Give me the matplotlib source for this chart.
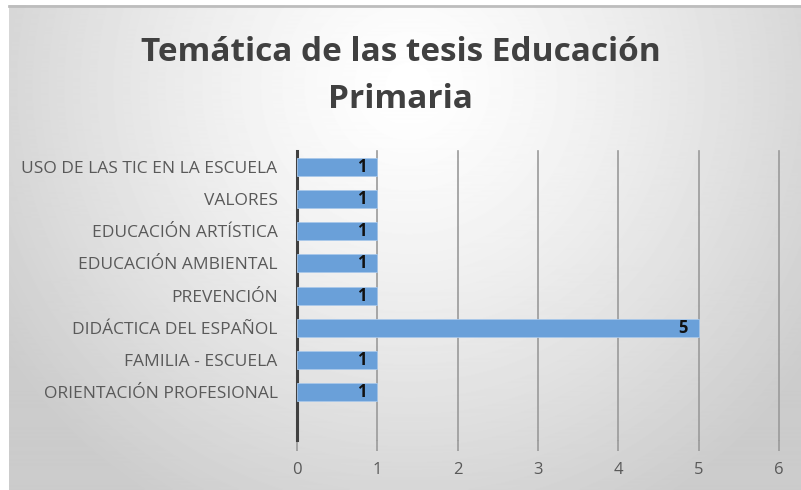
import numpy as np
import matplotlib.pyplot as plt

# data (bottom to top, as drawn)
temas = ['ORIENTACIÓN PROFESIONAL', 'FAMILIA - ESCUELA', 'DIDÁCTICA DEL ESPAÑOL',
         'PREVENCIÓN', 'EDUCACIÓN AMBIENTAL', 'EDUCACIÓN ARTÍSTICA',
         'VALORES', 'USO DE LAS TIC EN LA ESCUELA']
tesis = [1, 1, 5, 1, 1, 1, 1, 1]
xticks = [0, 1, 2, 3, 4, 5, 6]

plt.rcParams['font.family'] = ['Open Sans', 'DejaVu Sans']

fig = plt.figure(figsize=(8.01, 4.90), dpi=100, facecolor='white')

# radial gray background of the chart area
bg = fig.add_axes([0, 0, 1, 1], zorder=-5)
yy, xx = np.mgrid[0:484, 0:792]
r = np.sqrt(((xx - 400) / 520.0) ** 2 + ((yy - 80) / 520.0) ** 2)
shade = np.clip(1.0 - 0.22 * r ** 1.3, 0.8, 1.0)
bg.imshow(shade, cmap='gray', vmin=0, vmax=1, aspect='auto', extent=[9, 801, 490, 6])
bg.plot([9, 801], [6.5, 6.5], color='#bdbdbd', lw=2)
bg.set_xlim(0, 801)
bg.set_ylim(490, 0)
bg.axis('off')

ax = fig.add_axes([0.3708, 0.102, 0.6017, 0.5898])
ax.patch.set_alpha(0)

pos = np.arange(len(temas))
ax.barh(pos, tesis, height=0.56, color='#6aa0d9', edgecolor='#a9c8ea', linewidth=0.6, zorder=3)
for p, v in zip(pos, tesis):
    ax.text(v - 0.14, p, str(v), ha='right', va='center', fontsize=12,
            fontweight='bold', color='#111111', zorder=4)

ax.set_xlim(0, 6)
ax.set_ylim(-1.5, len(temas) - 0.5)
ax.set_xticks(xticks)
ax.set_yticks(pos)
ax.set_yticklabels(temas, fontsize=12.5, color='#595959')
ax.tick_params(axis='y', length=0, pad=14)
ax.tick_params(axis='x', length=8, width=1.2, color='#9a9a9a', labelcolor='#595959',
               labelsize=12, pad=8)
ax.xaxis.grid(True, color='#9a9a9a', linewidth=1.2, zorder=0)
for gl in ax.get_xgridlines():
    gl.set_clip_on(False)
for s in ['top', 'right', 'bottom']:
    ax.spines[s].set_visible(False)
ax.spines['left'].set_color('#404040')
ax.spines['left'].set_linewidth(2.2)
ax.spines['left'].set_bounds(-1.5, len(temas) - 0.5)

fig.text(0.5, 0.845, 'Temática de las tesis Educación\nPrimaria', ha='center', va='center',
         fontsize=24, fontweight='bold', color='#404040', linespacing=1.55)

fig.savefig('out.png', dpi=100, facecolor='white')
